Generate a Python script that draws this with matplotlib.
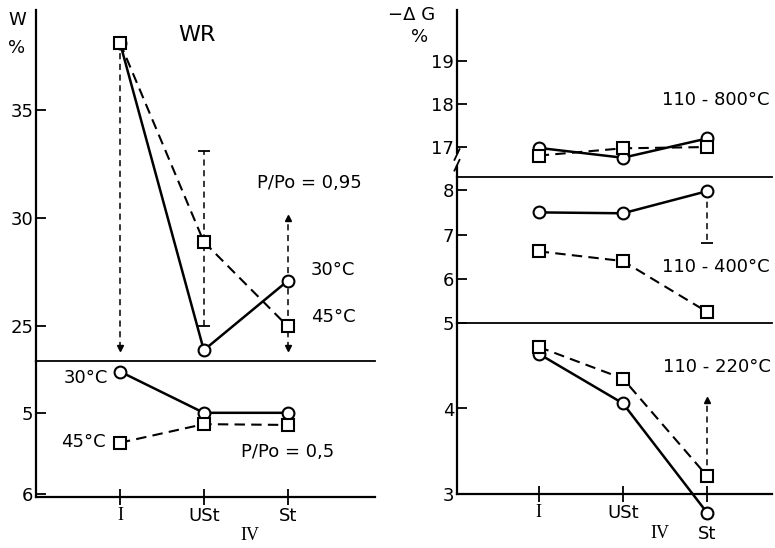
import matplotlib
matplotlib.use('Agg')
import matplotlib.pyplot as plt

# Данные
cats = ['I', 'USt', 'St']
xs = [1, 2, 3]

# левая панель, W %
w95_30 = [38.1, 23.9, 27.1]
w95_45 = [38.1, 28.9, 25.0]
w95_lo = [24.0, 25.0, 24.0]
w95_hi = [38.1, 33.1, 30.0]
w50_30 = [4.49, 5.0, 5.0]
w50_45 = [5.37, 5.14, 5.15]

# правая панель, -dG %
g800_30 = [16.98, 16.75, 17.2]
g800_45 = [16.8, 16.97, 17.0]
g400_30 = [7.5, 7.48, 7.98]
g400_45 = [6.62, 6.4, 5.25]
g400_err = [7.98, 6.8]
g220_30 = [4.64, 4.06, 2.78]
g220_45 = [4.72, 4.35, 3.21]
g220_err = [3.21, 4.1]

W, H = 775, 548
FS = 13
plt.rcParams['font.family'] = ['DejaVu Sans']
plt.rcParams['font.size'] = FS

fig = plt.figure(figsize=(W / 100, H / 100), dpi=100)


def box(x0, y0, x1, y1):
    # пиксели -> доли фигуры
    return [x0 / W, 1 - y1 / H, (x1 - x0) / W, (y1 - y0) / H]


def style(ax, bottom=False, top=False):
    for s in ['right', 'top', 'bottom']:
        ax.spines[s].set_visible(False)
    ax.spines['left'].set_linewidth(1.6)
    if bottom:
        ax.spines['bottom'].set_visible(True)
        ax.spines['bottom'].set_linewidth(1.6)
    if top:
        ax.spines['top'].set_visible(True)
        ax.spines['top'].set_linewidth(1.3)
    ax.tick_params(axis='y', direction='in', length=7, width=1.3, pad=2, labelsize=FS)
    ax.set_facecolor('none')
    if bottom:
        ax.set_xticks(xs)
        ax.tick_params(axis='x', direction='inout', length=12, width=1.3, pad=1, labelsize=FS)
    else:
        ax.set_xticks([])


solid = dict(color='black', lw=1.8, marker='o', ms=8.5, mfc='white', mec='black', mew=1.5, clip_on=False, zorder=3)
dash = dict(color='black', lw=1.5, ls=(0, (5, 3)), marker='s', ms=8, mfc='white', mec='black', mew=1.5, clip_on=False, zorder=3)
errl = dict(color='black', lw=1.1, ls=(0, (4, 3)), zorder=2, clip_on=False)

# ---- левая панель
axL1 = fig.add_axes(box(36, 10, 375, 361))
axL2 = fig.add_axes(box(36, 361, 375, 497))
for ax in (axL1, axL2):
    ax.set_xlim(0, 4.04)
axL1.set_ylim(23.4, 39.6)
axL1.set_yticks([25, 30, 35])
axL2.set_ylim(6.04, 4.36)
axL2.set_yticks([5, 6])
style(axL1)
style(axL2, bottom=True, top=True)
axL2.set_xticklabels(cats)
for lab in axL2.get_xticklabels()[:1]:
    lab.set_family('Liberation Serif')

axL1.plot(xs, w95_30, **solid)
axL1.plot(xs, w95_45, **dash)
for i, x in enumerate(xs):
    axL1.plot([x, x], [w95_lo[i], w95_hi[i]], **errl)
# концы разброса: I - стрелка вниз, USt - засечки, St - стрелки
axL1.plot(xs[0], w95_lo[0], marker='v', ms=4, color='black', clip_on=False)
axL1.plot([xs[1]] * 2, [w95_lo[1], w95_hi[1]], ls='none', marker='_', ms=9, mew=1.3, color='black')
axL1.plot(xs[2], w95_lo[2], marker='v', ms=4, color='black')
axL1.plot(xs[2], w95_hi[2], marker='^', ms=4, color='black')

axL2.plot(xs, w50_30, **solid)
axL2.plot(xs, w50_45, **dash)

# ---- правая панель
axR1 = fig.add_axes(box(457, 10, 772, 177))
axR2 = fig.add_axes(box(457, 177, 772, 323))
axR3 = fig.add_axes(box(457, 323, 772, 494))
for ax in (axR1, axR2, axR3):
    ax.set_xlim(0.03, 3.77)
axR1.set_ylim(16.3, 20.2)
axR1.set_yticks([17, 18, 19])
axR2.set_ylim(5.0, 8.3)
axR2.set_yticks([6, 7, 8])
axR3.set_ylim(3, 5)
axR3.set_yticks([3, 4, 5])
style(axR1)
style(axR2, top=True)
style(axR3, bottom=True, top=True)
axR3.set_xticklabels(['I', 'USt', '\nSt'])
axR3.get_xticklabels()[0].set_family('Liberation Serif')

# разрыв оси
axR1.spines['left'].set_bounds(16.3, 16.55)
axR1.plot([0.03, 0.03], [16.85, 20.2], color='black', lw=1.6, clip_on=False)
axR1.plot([0.0, 0.06], [16.45, 16.7], color='black', lw=1.3, clip_on=False)
axR1.plot([0.0, 0.06], [16.7, 16.95], color='black', lw=1.3, clip_on=False)

axR1.plot(xs, g800_30, **solid)
axR1.plot(xs, g800_45, **dash)

axR2.plot(xs, g400_30, **solid)
axR2.plot(xs, g400_45, **dash)
axR2.plot([xs[2]] * 2, g400_err, **errl)
axR2.plot(xs[2], g400_err[1], ls='none', marker='_', ms=9, mew=1.3, color='black')

axR3.plot(xs, g220_30, **solid)
axR3.plot(xs, g220_45, **dash)
axR3.plot([xs[2]] * 2, g220_err, **errl)
axR3.plot(xs[2], g220_err[1], marker='^', ms=4, color='black')


def ftext(x, y, s, **kw):
    fig.text(x / W, 1 - y / H, s, ha='center', va='center', fontsize=kw.pop('fontsize', FS), **kw)


# подписи левой панели
ftext(17, 20, 'W')
ftext(17, 48, '%')
ftext(197, 35, 'WR', fontsize=16)
ftext(309, 183, 'P/Po = 0,95')
ftext(333, 270, '30°C')
ftext(333, 317, '45°C')
ftext(86, 378, '30°C')
ftext(83, 442, '45°C')
ftext(288, 452, 'P/Po = 0,5')
ftext(250, 536, 'IV', family='Liberation Serif')

# подписи правой панели
ftext(412, 15, '−Δ G')
ftext(420, 37, '%')
ftext(716, 100, '110 - 800°C')
ftext(716, 267, '110 - 400°C')
ftext(717, 367, '110 - 220°C')
ftext(660, 533, 'IV', family='Liberation Serif')

plt.savefig('out.png', dpi=100)
